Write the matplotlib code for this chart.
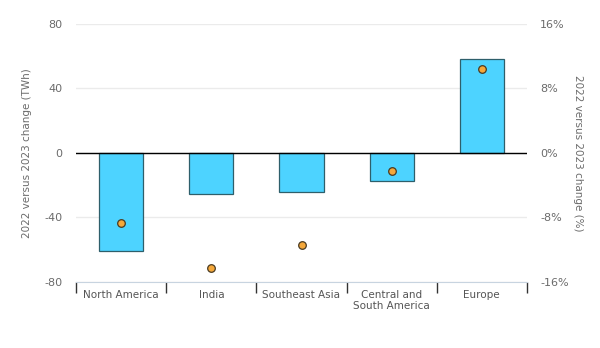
import matplotlib.pyplot as plt
import numpy as np

regions = ["North America", "India", "Southeast Asia", "Central and\nSouth America", "Europe"]
change_twh = [-61, -25.5, -24, -17.5, 58]
change_pct = [-8.7, -14.3, -11.4, -2.3, 10.4]

grey = "#6b6b6b"
plt.rcParams["font.family"] = "DejaVu Sans"
plt.rcParams["axes.unicode_minus"] = False

fig = plt.figure(figsize=(6, 3.48), dpi=100)
ax = fig.add_axes([0.127, 0.19, 0.751, 0.741])
x = np.arange(len(regions))

ax.bar(x, change_twh, width=0.49, color="#4dd3ff", edgecolor="#2e5f6b", linewidth=0.9, zorder=3)
ax.axhline(0, color="black", linewidth=1.0, zorder=4)

ax.set_ylim(-80, 80)
ax.set_xlim(-0.5, len(regions) - 0.5)
ax.set_yticks([-80, -40, 0, 40, 80])
ax.grid(axis="y", color="#ebebeb", linewidth=1.0, zorder=0)
ax.set_ylabel("2022 versus 2023 change (TWh)", color=grey, fontsize=7.5)
ax.yaxis.set_label_coords(-0.098, 0.5)

# category labels, boundary ticks
ax.set_xticks(x)
ax.set_xticklabels(regions, fontsize=7.5, color="#555555", linespacing=1.1)
ax.set_xticks(np.arange(-0.5, len(regions)), minor=True)
ax.tick_params(axis="x", which="major", length=0, pad=6)
ax.tick_params(axis="x", which="minor", length=8, width=1.0, color="#333333", direction="out")
ax.tick_params(axis="y", length=0, labelsize=8, labelcolor=grey, pad=10)

for s in ["top", "left", "right"]:
    ax.spines[s].set_visible(False)
ax.spines["bottom"].set_color("#c8d4e0")

ax2 = ax.twinx()
ax2.scatter(x, change_pct, s=30, color="#f5a83a", edgecolor="#4a3a20", linewidth=0.9, zorder=5)
ax2.set_ylim(-16, 16)
ax2.set_yticks([-16, -8, 0, 8, 16])
ax2.set_yticklabels(["-16%", "-8%", "0%", "8%", "16%"])
ax2.tick_params(axis="y", length=0, labelsize=8, labelcolor=grey, pad=9.5)
ax2.set_ylabel("2022 versus 2023 change (%)", color=grey, fontsize=7.5, rotation=270, va="center")
ax2.yaxis.set_label_coords(1.113, 0.5)
for s in ax2.spines.values():
    s.set_visible(False)

fig.savefig("out.png", dpi=100)
